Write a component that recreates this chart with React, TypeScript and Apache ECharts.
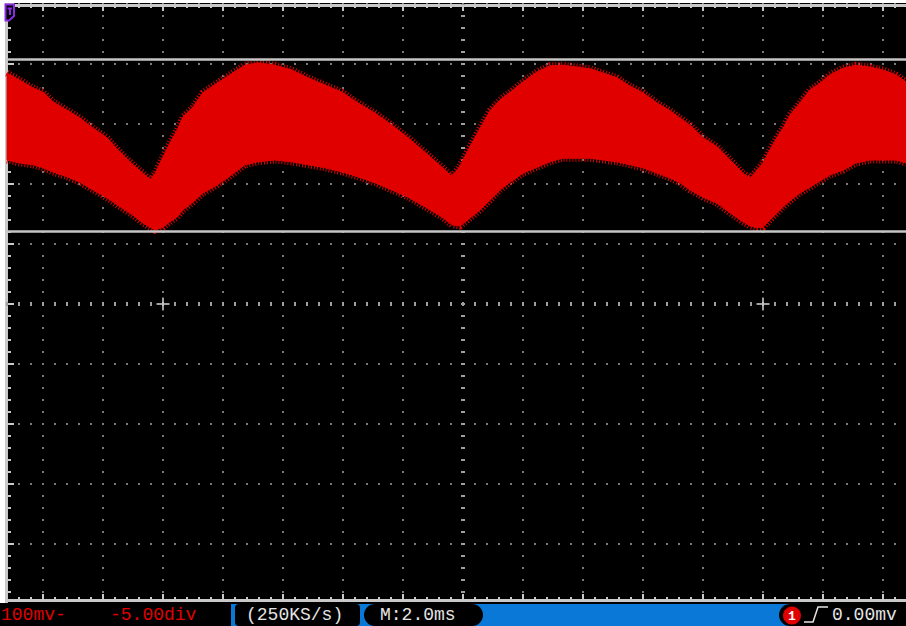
import React, { useEffect, useRef } from "react";
import * as echarts from "echarts";

// ---- Data (time in ms, level in mV) ----
const timeMs = [
  -15.2, -14.77, -14.33, -14.0, -13.67, -13.2, -12.77, -12.33, -11.87, -11.43,
  -11.0, -10.67, -10.43, -10.27, -10.0, -9.77, -9.53, -9.33, -9.0, -8.67,
  -8.2, -7.77, -7.27, -6.83, -6.27, -5.7, -5.17, -4.6, -4.03, -3.5,
  -2.93, -2.37, -1.83, -1.27, -0.7, -0.37, -0.1, 0.23, 0.57, 0.9,
  1.23, 1.57, 2.0, 2.47, 2.9, 3.33, 3.8, 4.23, 4.67, 5.13,
  5.57, 6.0, 6.47, 6.9, 7.23, 7.57, 8.0, 8.47, 8.9, 9.33,
  9.57, 9.8, 10.0, 10.23, 10.47, 10.67, 10.9, 11.23, 11.57, 11.9,
  12.23, 12.67, 13.1, 13.57, 14.0, 14.43, 14.77,
];
const upperMv = [
  385, 373, 360, 353, 337, 323, 310, 293, 277, 253,
  232, 218, 207, 217, 245, 268, 290, 312, 328, 352,
  368, 382, 398, 402, 398, 390, 377, 365, 353, 335,
  318, 298, 277, 253, 228, 212, 230, 262, 293, 322,
  340, 353, 370, 387, 397, 398, 395, 392, 385, 377,
  363, 352, 335, 322, 310, 298, 277, 262, 240, 218,
  210, 223, 235, 257, 278, 293, 315, 335, 357, 368,
  382, 393, 398, 395, 390, 382, 370,
];
const lowerMv = [
  240, 235, 232, 227, 220, 212, 203, 190, 177, 162,
  148, 135, 128, 123, 128, 137, 145, 157, 170, 185,
  198, 213, 232, 237, 240, 237, 232, 227, 220, 212,
  202, 190, 178, 162, 145, 132, 130, 143, 157, 173,
  190, 203, 218, 228, 237, 243, 243, 243, 240, 237,
  232, 227, 218, 210, 202, 190, 178, 168, 152, 137,
  130, 127, 128, 140, 152, 162, 172, 185, 195, 205,
  215, 223, 235, 240, 240, 240, 235,
];
const cursorLevelsMv = [407.5, 120.8];
const markerTimesMs = [-10, 10];
const xRangeMs = [-16, 16];
const xDivMs = 2;
const yRangeMv = [-500, 500];
const yDivMv = 100;

const chLabel = "100mv-";
const offsetLabel = "-5.00div";
const sampleLabel = "(250KS/s)";
const timebaseLabel = "M:2.0ms";
const trigChannel = "1";
const trigLevelLabel = "0.00mv";

const RED = "#e00000";
const BORDER = "#c9c9c9";
const DOT = "#7a7a7a";
const BLUE = "#0a78d7";
const TXT = "#e4e4e4";
const MONO = '"Liberation Mono", "DejaVu Sans Mono", monospace';

// the chart canvas is shifted left so that the 16-division time grid
// (centred on the screen) can extend past the visible screen edges
const OX = 24;
const CANVAS_W = 967;

export default function App() {
  const ref = useRef<HTMLDivElement>(null);

  useEffect(() => {
    if (!ref.current) return;
    const chart = echarts.init(ref.current, null, { renderer: "svg" });

    const bandData = timeMs.map((t, i) => [t, upperMv[i], lowerMv[i]]);

    const borderAxisCommon = {
      type: "value",
      axisLabel: { show: false },
      axisLine: { show: true, onZero: false, lineStyle: { color: BORDER, width: 3 } },
      minorSplitLine: { show: false },
    };

    const txt = (text: string, x: number, fill: string) => ({
      type: "text",
      z: 103,
      x: x + OX,
      y: 615,
      style: { text, fill, font: `18px ${MONO}`, verticalAlign: "middle" },
    });

    const option: any = {
      backgroundColor: "#000",
      animation: false,
      grid: { left: 7, top: 4, width: 960, height: 600, containLabel: false },
      xAxis: [
        {
          ...borderAxisCommon,
          min: xRangeMs[0],
          max: xRangeMs[1],
          interval: xDivMs,
          position: "bottom",
          offset: -4,
          axisTick: { show: true, inside: true, length: 6, lineStyle: { color: BORDER, width: 2 } },
          minorTick: { show: true, splitNumber: 5, length: 3, lineStyle: { color: BORDER, width: 2 } },
          splitLine: { show: true, lineStyle: { color: DOT, width: 2, type: [2, 10], dashOffset: 1 } },
        },
        {
          ...borderAxisCommon,
          min: xRangeMs[0],
          max: xRangeMs[1],
          interval: xDivMs,
          position: "top",
          offset: -1,
          axisTick: { show: true, inside: true, length: 6, lineStyle: { color: BORDER, width: 2 } },
          minorTick: { show: true, splitNumber: 5, length: 3, lineStyle: { color: BORDER, width: 2 } },
          splitLine: { show: false },
        },
      ],
      yAxis: [
        {
          ...borderAxisCommon,
          min: yRangeMv[0],
          max: yRangeMv[1],
          interval: yDivMv,
          position: "left",
          offset: -23,
          axisTick: { show: true, inside: true, length: 8, lineStyle: { color: BORDER, width: 2 } },
          minorTick: { show: true, splitNumber: 5, length: 5, lineStyle: { color: BORDER, width: 2 } },
          splitLine: { show: true, lineStyle: { color: DOT, width: 2, type: [2, 10], dashOffset: 1 } },
        },
      ],
      series: [
        {
          type: "line",
          silent: true,
          z: 1,
          symbol: "none",
          data: [[xRangeMs[0], 0], [xRangeMs[1], 0]],
          lineStyle: { color: "#9e9e9e", width: 4, type: [2, 10], dashOffset: 1 },
        },
        {
          type: "line",
          silent: true,
          z: 1,
          symbol: "none",
          data: [[0, yRangeMv[0]], [0, yRangeMv[1]]],
          lineStyle: { color: "#9e9e9e", width: 4, type: [2, 10], dashOffset: 1 },
        },
        {
          type: "scatter",
          silent: true,
          z: 1,
          symbol: "path://M5.5,0H7.5V5.5H13V7.5H7.5V13H5.5V7.5H0V5.5H5.5Z",
          symbolSize: 13,
          itemStyle: { color: "#c8c8c8" },
          data: markerTimesMs.map((t) => [t, 0]),
        },
        {
          name: "CH1",
          type: "custom",
          silent: true,
          z: 3,
          clip: true,
          encode: { x: 0, y: [1, 2] },
          data: bandData,
          renderItem: (params: any, api: any) => {
            if (params.dataIndex !== 0) return null;
            const top = timeMs.map((t, i) => api.coord([t, upperMv[i]]));
            const bot = timeMs.map((t, i) => api.coord([t, lowerMv[i]]));
            return {
              type: "group",
              children: [
                {
                  type: "polygon",
                  shape: { points: top.concat(bot.slice().reverse()) },
                  style: { fill: RED, stroke: RED, lineWidth: 1 },
                },
                {
                  type: "polyline",
                  shape: { points: top },
                  style: { fill: "none", stroke: RED, lineWidth: 7, lineDash: [1, 2] },
                },
                {
                  type: "polyline",
                  shape: { points: bot },
                  style: { fill: "none", stroke: RED, lineWidth: 7, lineDash: [1, 2] },
                },
              ],
            };
          },
        },
        ...cursorLevelsMv.map((lv) => ({
          type: "line",
          silent: true,
          z: 10,
          symbol: "none",
          data: [[xRangeMs[0], lv], [xRangeMs[1], lv]],
          lineStyle: { color: "#c6c6c6", width: 2.5 },
        })),
      ],
      graphic: [
        { type: "rect", z: 100, shape: { x: 0, y: 0, width: CANVAS_W, height: 3 }, style: { fill: "#ffffff" } },
        { type: "rect", z: 100, shape: { x: 0, y: 0, width: OX + 5, height: 603 }, style: { fill: "#ffffff" } },
        { type: "rect", z: 100, shape: { x: 0, y: 603, width: CANVAS_W, height: 23 }, style: { fill: "#000000" } },
        { type: "rect", z: 101, shape: { x: OX + 231, y: 604, width: 700, height: 22 }, style: { fill: BLUE } },
        { type: "rect", z: 102, shape: { x: OX + 235, y: 604, width: 125, height: 22, r: 4 }, style: { fill: "#000" } },
        { type: "rect", z: 102, shape: { x: OX + 364, y: 604, width: 119, height: 22, r: 11 }, style: { fill: "#000" } },
        { type: "rect", z: 102, shape: { x: OX + 779, y: 604, width: 160, height: 22, r: 11 }, style: { fill: "#000" } },
        txt(chLabel, 1, RED),
        txt(offsetLabel, 110, RED),
        txt(sampleLabel, 246, TXT),
        txt(timebaseLabel, 380, TXT),
        { type: "circle", z: 103, shape: { cx: OX + 792, cy: 615.5, r: 9 }, style: { fill: RED } },
        { type: "text", z: 104, x: OX + 792, y: 616, style: { text: trigChannel, fill: "#fff", font: `bold 13px ${MONO}`, align: "center", verticalAlign: "middle" } },
        { type: "polyline", z: 103, shape: { points: [[OX + 804, 622], [OX + 813, 622], [OX + 818, 607], [OX + 828, 607]] }, style: { stroke: TXT, lineWidth: 1.5, fill: "none" } },
        txt(trigLevelLabel, 832, TXT),
        { type: "polygon", z: 103, shape: { points: [[OX + 5.5, 4.5], [OX + 14, 4.5], [OX + 14, 16], [OX + 9, 20.5], [OX + 5.5, 20.5]] }, style: { fill: "#000", stroke: "#8a2be2", lineWidth: 2 } },
        { type: "polyline", z: 104, shape: { points: [[OX + 7.5, 8.5], [OX + 12, 8.5]] }, style: { stroke: "#8a2be2", lineWidth: 2, fill: "none" } },
        { type: "polyline", z: 104, shape: { points: [[OX + 10, 8.5], [OX + 10, 15]] }, style: { stroke: "#8a2be2", lineWidth: 2, fill: "none" } },
      ],
    };

    chart.setOption(option);
    return () => chart.dispose();
  }, []);

  return (
    <div style={{ position: "absolute", left: 0, top: 0, width: 906, height: 626, overflow: "hidden", background: "#000" }}>
      <div
        ref={ref}
        style={{ position: "absolute", left: -OX, top: 0, width: CANVAS_W, height: 626 }}
      />
    </div>
  );
}
